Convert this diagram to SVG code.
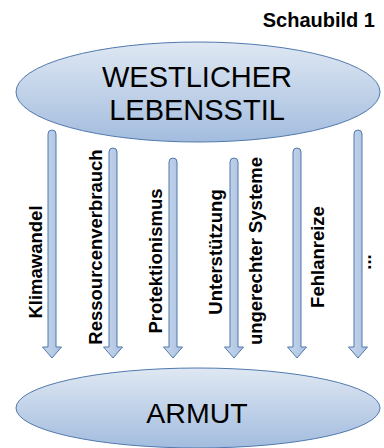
<svg xmlns="http://www.w3.org/2000/svg" width="384" height="448" viewBox="0 0 384 448">
<defs>
<linearGradient id="eg" x1="0" y1="0" x2="0" y2="1">
<stop offset="0" stop-color="#dfe8f3"/>
<stop offset="1" stop-color="#a3bcde"/>
</linearGradient>
<linearGradient id="ag" x1="0" y1="0" x2="1" y2="0">
<stop offset="0" stop-color="#c9d8ec"/>
<stop offset="1" stop-color="#a9c1e1"/>
</linearGradient>
<style>
.ell{fill:url(#eg);stroke:#4f79ad;stroke-width:1}
.arr{fill:url(#ag);stroke:#4f79ad;stroke-width:1;stroke-linejoin:miter}
.big{font-family:"Liberation Sans",Arial,sans-serif;font-size:29px;fill:#000;text-anchor:middle}
.lab{font-family:"Liberation Sans",Arial,sans-serif;font-size:18.5px;font-weight:bold;fill:#000;text-anchor:middle}
</style>
</defs>
<rect width="384" height="448" fill="#fff"/>
<text x="375" y="27" font-family="Liberation Sans, Arial, sans-serif" font-size="20" font-weight="bold" text-anchor="end">Schaubild 1</text>
<g id="connectors">
<path class="arr" d="M48,134 A4,4 0 0 1 56,134 L56,347 L61.5,347 L52,358 L42.5,347 L48,347 Z"/>
<path class="arr" d="M109,152 A4,4 0 0 1 117,152 L117,347 L122.5,347 L113,358 L103.5,347 L109,347 Z"/>
<path class="arr" d="M169,162 A4,4 0 0 1 177,162 L177,347 L182.5,347 L173,358 L163.5,347 L169,347 Z"/>
<path class="arr" d="M230,162 A4,4 0 0 1 238,162 L238,347 L243.5,347 L234,358 L224.5,347 L230,347 Z"/>
<path class="arr" d="M293,152 A4,4 0 0 1 301,152 L301,347 L306.5,347 L297,358 L287.5,347 L293,347 Z"/>
<path class="arr" d="M354,134 A4,4 0 0 1 362,134 L362,347 L367.5,347 L358,358 L348.5,347 L354,347 Z"/>
</g>
<g id="labels">
<text class="lab" transform="translate(42,262) rotate(-90)">Klimawandel</text>
<text class="lab" transform="translate(102,247) rotate(-90)">Ressourcenverbrauch</text>
<text class="lab" transform="translate(162,261) rotate(-90)">Protektionismus</text>
<text class="lab" transform="translate(222,252) rotate(-90)">Unterstützung</text>
<text class="lab" transform="translate(262,251) rotate(-90)">ungerechter Systeme</text>
<text class="lab" transform="translate(324,257) rotate(-90)">Fehlanreize</text>
<text class="lab" transform="translate(371,262) rotate(-90)">...</text>
</g>
<g id="westlicher-lebensstil">
<ellipse class="ell" cx="198" cy="92" rx="182" ry="50"/>
<text class="big" x="197" y="87">WESTLICHER</text>
<text class="big" x="197" y="120">LEBENSSTIL</text>
</g>
<g id="armut">
<ellipse class="ell" cx="198" cy="408" rx="182" ry="40"/>
<text class="big" x="197" y="423" style="font-size:28.5px">ARMUT</text>
</g>
</svg>
